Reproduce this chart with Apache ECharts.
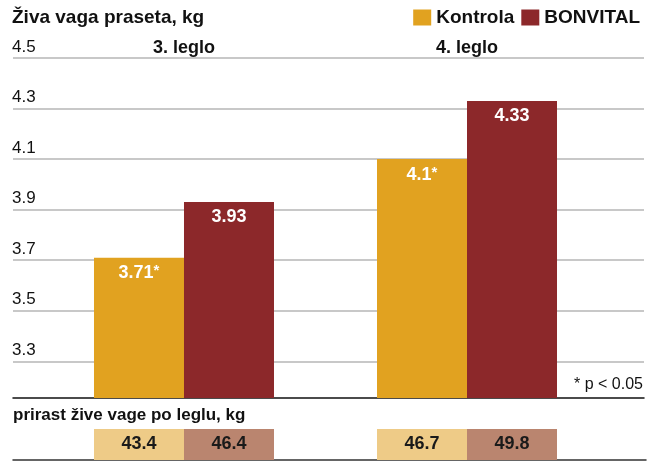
<!DOCTYPE html>
<html>
<head>
<meta charset="utf-8">
<script src="https://cdn.jsdelivr.net/npm/echarts@6/dist/echarts.min.js"></script>
<style>
html,body{margin:0;padding:0;background:#fff;}
#chart{width:654px;height:461px;}
</style>
</head>
<body>
<div id="chart"></div>
<script>
// ---- data ----
var groups = ['3. leglo', '4. leglo'];
var seriesNames = ['Kontrola', 'BONVITAL'];
var kontrola = [3.71, 4.1];
var bonvital = [3.93, 4.33];
var kontrolaSig = ['*', '*'];
var bonvitalSig = ['', ''];
var gainKontrola = [43.4, 46.7];
var gainBonvital = [46.4, 49.8];
var yTicks = [3.3, 3.5, 3.7, 3.9, 4.1, 4.3, 4.5];
var titleMain = 'Živa vaga praseta, kg';
var titleGain = 'prirast žive vage po leglu, kg';
var noteText = '* p < 0.05';

// ---- chart ----
var FONT = 'Liberation Sans, Arial, sans-serif';
var C_K = '#E1A220', C_B = '#8C282A', C_K2 = '#EECB87', C_B2 = '#BA856F';
var xMin = -0.6042, xMax = 1.6254, yMin = 3.155, yMax = 4.5;

function pts(arr){ return arr.map(function(v,i){ return [i, v]; }); }

var chart = echarts.init(document.getElementById('chart'), null, {renderer:'canvas'});
chart.setOption({
  animation: false,
  backgroundColor: '#fff',
  textStyle: {fontFamily: FONT},
  title: [
    {text: titleMain, left: 12, top: 7, padding: 0,
     textStyle: {fontFamily: FONT, fontSize: 19, fontWeight: 'bold', color: '#111', lineHeight: 22}},
    {text: titleGain, left: 13, top: 404, padding: 0,
     textStyle: {fontFamily: FONT, fontSize: 17, fontWeight: 'bold', color: '#111', lineHeight: 22}},
    {text: noteText, right: 11, top: 374, padding: 0,
     textStyle: {fontFamily: FONT, fontSize: 16, fontWeight: 'normal', color: '#111', lineHeight: 22}}
  ],
  legend: {
    data: seriesNames, right: 14, top: 8, padding: 0,
    icon: 'rect', itemWidth: 18, itemHeight: 16, itemGap: 7,
    textStyle: {fontFamily: FONT, fontSize: 19, fontWeight: 'bold', color: '#111'},
    selectedMode: false
  },
  grid: [
    {left: 13, right: 10, top: 58, bottom: 63},
    {left: 13, right: 8, top: 429, bottom: 1}
  ],
  xAxis: [
    {type: 'value', gridIndex: 0, position: 'bottom', min: xMin, max: xMax,
     axisLine: {show: true, onZero: false, lineStyle: {color: '#111', width: 1.5}},
     axisTick: {show: false}, axisLabel: {show: false}, splitLine: {show: false}},
    {type: 'value', gridIndex: 0, position: 'top', min: xMin, max: xMax,
     axisLine: {show: false}, axisTick: {show: false}, splitLine: {show: false},
     axisLabel: {show: true, customValues: [0, 1], margin: 0,
       formatter: function(v){ return groups[Math.round(v)]; },
       fontFamily: FONT, fontSize: 18, fontWeight: 'bold', color: '#111', lineHeight: 20}},
    {type: 'value', gridIndex: 1, position: 'bottom', min: xMin, max: xMax + 0.0071,
     axisLine: {show: true, onZero: false, lineStyle: {color: '#333', width: 1.5}},
     axisTick: {show: false}, axisLabel: {show: false}, splitLine: {show: false}}
  ],
  yAxis: [
    {type: 'value', gridIndex: 0, min: yMin, max: yMax,
     axisLine: {show: false}, axisTick: {show: false}, splitLine: {show: false},
     axisLabel: {show: true, customValues: yTicks, align: 'left', verticalAlign: 'bottom',
       margin: 1, lineHeight: 22, fontFamily: FONT, fontSize: 17, color: '#111',
       formatter: function(v){ return String(v); }}},
    {type: 'value', gridIndex: 1, min: 0, max: 1, show: false}
  ],
  series: [
    {name: seriesNames[0], type: 'bar', xAxisIndex: 0, yAxisIndex: 0,
     data: pts(kontrola), barWidth: 90, barGap: '0%',
     itemStyle: {color: C_K},
     label: {show: true, position: 'insideTop', distance: 6,
       formatter: function(p){ return '{v|' + kontrola[p.dataIndex] + '}' + (kontrolaSig[p.dataIndex] ? '{s|' + kontrolaSig[p.dataIndex] + '}' : ''); },
       rich: {v: {fontFamily: FONT, fontSize: 18, fontWeight: 'bold', color: '#fff'},
              s: {fontFamily: FONT, fontSize: 15, fontWeight: 'bold', color: '#fff', verticalAlign: 'top', padding: [0,0,4,0]}}},
     markLine: {silent: true, symbol: ['none', 'none'], z: 1, animation: false,
       label: {show: false},
       lineStyle: {color: '#c8c8c8', width: 2, type: 'solid'},
       emphasis: {disabled: true},
       data: yTicks.map(function(v){ return {yAxis: v}; })}
    },
    {name: seriesNames[1], type: 'bar', xAxisIndex: 0, yAxisIndex: 0,
     data: pts(bonvital), barWidth: 90, barGap: '0%',
     itemStyle: {color: C_B},
     label: {show: true, position: 'insideTop', distance: 6,
       formatter: function(p){ return bonvital[p.dataIndex] + bonvitalSig[p.dataIndex]; },
       fontFamily: FONT, fontSize: 18, fontWeight: 'bold', color: '#fff'}
    },
    {name: 'gainK', type: 'bar', xAxisIndex: 2, yAxisIndex: 1,
     data: gainKontrola.map(function(v,i){ return [i, 1]; }), barWidth: 90, barGap: '0%',
     itemStyle: {color: C_K2},
     label: {show: true, position: 'inside',
       formatter: function(p){ return gainKontrola[p.dataIndex].toFixed(1); },
       fontFamily: FONT, fontSize: 18, fontWeight: 'bold', color: '#1a1a1a'}
    },
    {name: 'gainB', type: 'bar', xAxisIndex: 2, yAxisIndex: 1,
     data: gainBonvital.map(function(v,i){ return [i, 1]; }), barWidth: 90, barGap: '0%',
     itemStyle: {color: C_B2},
     label: {show: true, position: 'inside',
       formatter: function(p){ return gainBonvital[p.dataIndex].toFixed(1); },
       fontFamily: FONT, fontSize: 18, fontWeight: 'bold', color: '#1a1a1a'}
    }
  ]
});
</script>
</body>
</html>
